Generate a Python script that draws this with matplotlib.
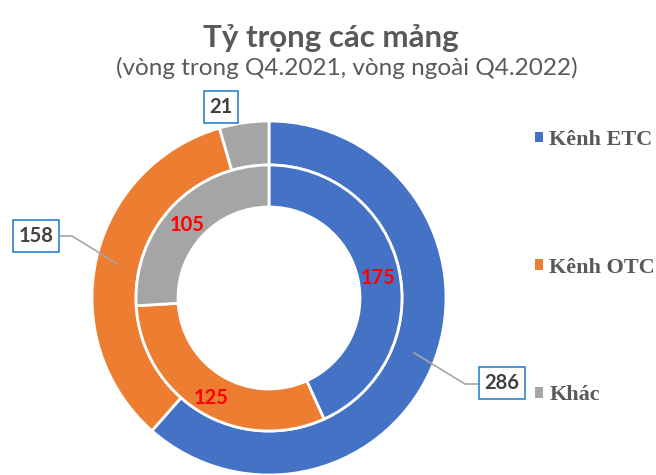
import numpy as np
import matplotlib
matplotlib.use("Agg")
import matplotlib.pyplot as plt
from matplotlib.patches import Patch

# %% data
categories = ["Kênh ETC", "Kênh OTC", "Khác"]
q4_2022 = [286, 158, 21]   # outer ring
q4_2021 = [175, 125, 105]  # inner ring
colors = ["#4472C4", "#ED7D31", "#A5A5A5"]

W, H = 656, 475
fig = plt.figure(figsize=(W / 100, H / 100), dpi=100)
ax = fig.add_axes([0, 0, 1, 1])

def py(y):
    # pixel row (from top) -> data y
    return H - y

cx, cy = 269, py(298)
r_out, r_mid, r_in = 177, 133, 91

outer, _ = ax.pie(q4_2022, radius=r_out, center=(cx, cy), colors=colors,
                  startangle=90, counterclock=False,
                  wedgeprops=dict(width=r_out - r_mid, edgecolor="white", linewidth=2))
inner, inner_txt = ax.pie(q4_2021, radius=r_mid, center=(cx, cy), colors=colors,
                          startangle=90, counterclock=False,
                          labels=[str(v) for v in q4_2021],
                          labeldistance=(r_mid + r_in) / 2 / r_mid,
                          textprops=dict(color="#FF0000", fontsize=14.5, fontweight="bold",
                                         family="Lato", va="center"),
                          wedgeprops=dict(width=r_mid - r_in, edgecolor="white", linewidth=2))
for t in inner_txt:
    t.set_horizontalalignment("center")
    t.set_y(t.get_position()[1] - 4)  # sit a touch lower, like the original

# pie() resets the limits, so set them afterwards
ax.set_xlim(0, W)
ax.set_ylim(0, H)
ax.set_aspect("equal", adjustable="datalim")
ax.set_position([0, 0, 1, 1])
ax.axis("off")

# outer ring labels: boxed, with leader lines
box_pos = [(502, 383), (36, 236), (221, 107)]
knee = [(465, 384), (72, 236), None]
for w, v, (bx, by), k in zip(outer, q4_2022, box_pos, knee):
    if k is not None:
        a = np.deg2rad((w.theta1 + w.theta2) / 2)
        rr = (r_out + r_mid) / 2
        px, pyy = cx + rr * np.cos(a), cy + rr * np.sin(a)
        ex = bx - 24 if bx > cx else bx + 24
        ax.plot([px, k[0], ex], [pyy, py(k[1]), py(k[1])], color="#A6A6A6", lw=1.2, zorder=3)
    ax.text(bx, py(by), str(v), ha="center", va="center", fontsize=14.5,
            fontweight="bold", family="Lato", color="#404040", zorder=4,
            bbox=dict(boxstyle="square,pad=0.28", fc="white", ec="#3B8ED6", lw=1.3))

# title
ax.text(331, py(47), "Tỷ trọng các mảng", ha="center", va="baseline",
        fontsize=22.5, fontweight="bold", family="Lato", color="#595959")
ax.text(347, py(75), "(vòng trong Q4.2021, vòng ngoài Q4.2022)", ha="center",
        va="baseline", fontsize=17.5, family="Lato", color="#595959")

# legend
handles = [Patch(facecolor=c, edgecolor="none") for c in colors]
leg = ax.legend(handles, categories, loc="upper left", bbox_to_anchor=(526 / W, 1 - 121 / H),
                frameon=False, handlelength=0.35, handleheight=0.35, handletextpad=0.3,
                labelspacing=4.85, borderaxespad=0,
                prop=dict(family="Liberation Serif", weight="bold", size=16))
for t in leg.get_texts():
    t.set_color("#595959")

fig.savefig("out.png", dpi=100)
